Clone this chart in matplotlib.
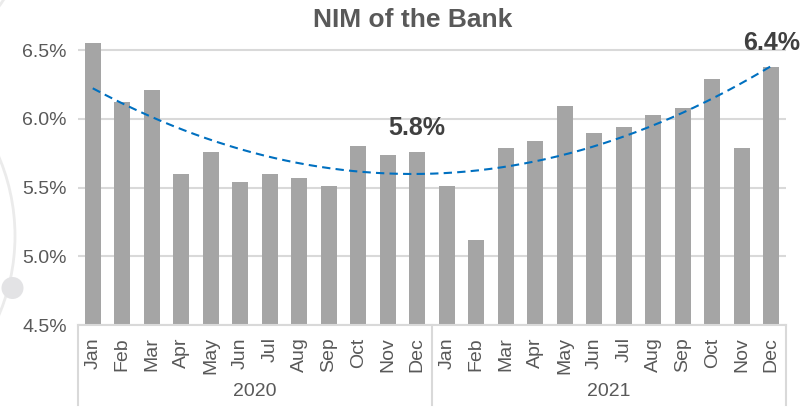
import numpy as np
import matplotlib
matplotlib.use("Agg")
import matplotlib.pyplot as plt
from matplotlib.patches import Arc, Circle

months = ["Jan", "Feb", "Mar", "Apr", "May", "Jun", "Jul", "Aug", "Sep", "Oct", "Nov", "Dec"]
years = ["2020", "2021"]
nim_2020 = [6.55, 6.12, 6.21, 5.60, 5.76, 5.54, 5.60, 5.57, 5.51, 5.80, 5.74, 5.76]
nim_2021 = [5.51, 5.12, 5.79, 5.84, 6.09, 5.90, 5.94, 6.03, 6.08, 6.29, 5.79, 6.38]
yticks = [4.5, 5.0, 5.5, 6.0, 6.5]
labels = {11: "5.8%", 23: "6.4%"}

plt.rcParams['font.family'] = ['Liberation Sans', 'DejaVu Sans']

W, H = 805, 407
fig = plt.figure(figsize=(W / 100, H / 100), dpi=100)

def fx(px):
    return px / W

def fy(py):
    return 1 - py / H

y_lo, y_hi = 4.5, 6.62
px_per = 137.5
top_px = 325 - (y_hi - y_lo) * px_per
ax = fig.add_axes([fx(78), fy(325), fx(786) - fx(78), (325 - top_px) / H])

values = np.array(nim_2020 + nim_2021)
x = np.arange(len(values))
ax.bar(x, values - y_lo, bottom=y_lo, width=0.53, color="#A5A5A5", zorder=2)

# polynomial (order 2) trendline, as in the source chart
coef = np.polyfit(x, values, 2)
xs = np.linspace(0, len(values) - 1, 300)
ax.plot(xs, np.polyval(coef, xs), color="#0070C0", lw=1.5, dashes=(4, 2.5), zorder=3)

ax.set_xlim(-0.5, len(values) - 0.5)
ax.set_ylim(y_lo, y_hi)
ax.set_yticks(yticks)
ax.set_yticklabels([f"{v:.1f}%" for v in yticks])
ax.tick_params(axis="y", length=0, pad=8, labelsize=14, labelcolor="#595959")
ax.grid(axis="y", color="#D9D9D9", lw=1.5, zorder=0)
for s in ["top", "right", "left"]:
    ax.spines[s].set_visible(False)
ax.spines["bottom"].set_color("#D9D9D9")
ax.spines["bottom"].set_linewidth(1.5)

ax.set_xticks(x)
ax.set_xticklabels(months * 2, rotation=90, va="top", ha="center")
ax.tick_params(axis="x", length=0, pad=9, labelsize=14, labelcolor="#595959")

for i, t in labels.items():
    ax.annotate(t, (x[i], values[i]), xytext=(0, 24), textcoords="offset pixels",
                ha="center", va="center", fontsize=18, fontweight="bold",
                color="#404040", annotation_clip=False)

# group separators and year labels
for px in [78, 432, 786]:
    fig.add_artist(plt.Line2D([fx(px), fx(px)], [fy(325), fy(405)], color="#D9D9D9", lw=1.5))
for j, yr in enumerate(years):
    cx = (78 + 432) / 2 if j == 0 else (432 + 786) / 2
    fig.text(fx(cx), fy(391), yr, ha="center", va="center", fontsize=14, color="#595959")

fig.text(fx(413), fy(20), "NIM of the Bank", ha="center", va="center",
         fontsize=19, fontweight="bold", color="#595959")

# background decoration
dec = fig.add_axes([0, 0, 1, 1], zorder=-1)
dec.set_xlim(0, W)
dec.set_ylim(H, 0)
dec.axis("off")
dec.add_patch(Arc((-187.6, 236), 2 * 202.6, 2 * 202.6, theta1=-25, theta2=25,
                  color="#EBEBEB", lw=2))
dec.add_patch(Arc((-60, -40), 2 * 75, 2 * 75, theta1=0, theta2=90,
                  color="#EBEBEB", lw=2))
dec.add_patch(Circle((12.5, 288), 11, color="#E3E3E5", lw=0))

fig.savefig("out.png", dpi=100)
